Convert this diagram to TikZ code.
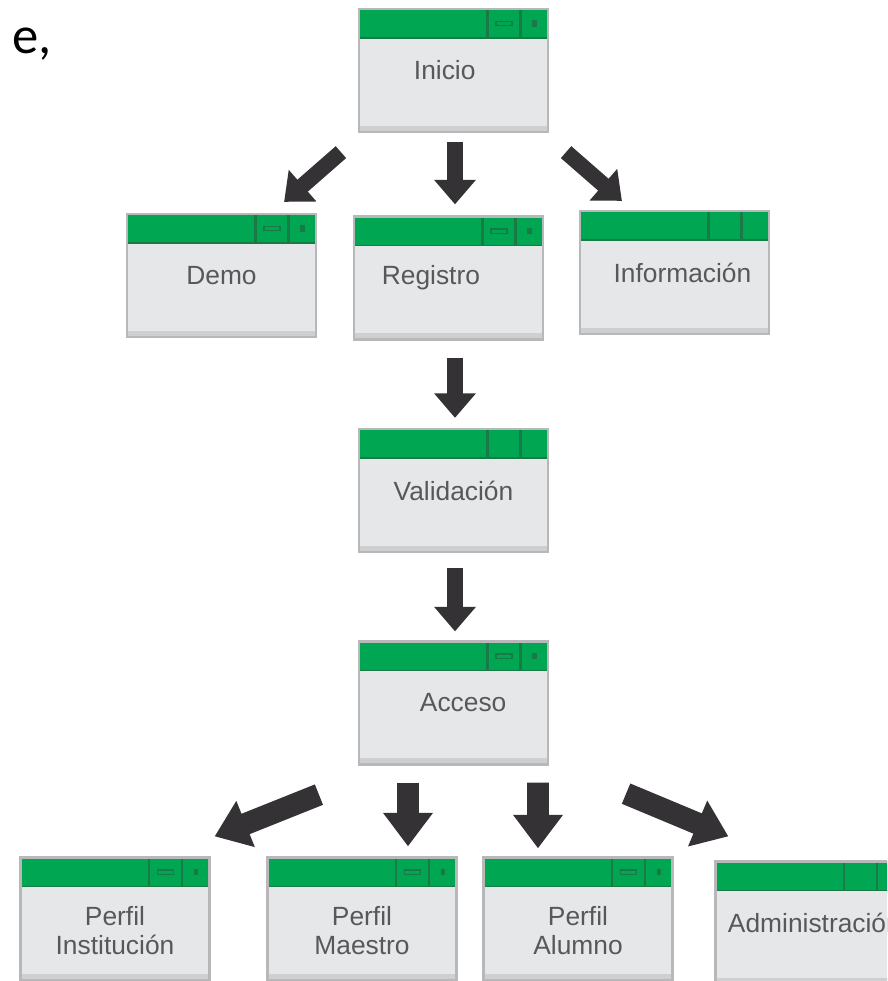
\documentclass[tikz,border=0pt]{standalone}
\usepackage{fontspec}
\setmainfont{Liberation Sans}
\newfontfamily\docfont{Carlito}
\usepackage{tikz}
\usetikzlibrary{arrows.meta,calc}

\definecolor{winGreen}{RGB}{0,166,81}
\definecolor{winDark}{RGB}{24,122,70}
\definecolor{winBody}{RGB}{230,231,232}
\definecolor{winStrip}{RGB}{206,207,209}
\definecolor{winEdge}{RGB}{184,184,187}
\definecolor{winText}{RGB}{88,88,90}
\definecolor{arrowGray}{RGB}{52,50,52}

% title bar of a window box
\newcommand\winbar{%
  \fill[winGreen] (path picture bounding box.north west) rectangle ([yshift=-16.5pt]path picture bounding box.north east);
  \draw[winDark, line width=0.8pt] ([yshift=-16.5pt]path picture bounding box.north west) -- ([yshift=-16.5pt]path picture bounding box.north east);
  \draw[winDark, line width=0.8pt] (path picture bounding box.north west) -- (path picture bounding box.north east);
  \draw[winDark, line width=1.4pt] ([xshift=-34.5pt]path picture bounding box.north east) -- ++(0,-16.5pt);
  \draw[winDark, line width=1.4pt] ([xshift=-15.5pt]path picture bounding box.north east) -- ++(0,-16.5pt);
  \fill[winStrip] (path picture bounding box.south west) rectangle ([yshift=3.5pt]path picture bounding box.south east);
}
% minimize / close marks
\newcommand\winbuttons{%
  \draw[winDark, line width=0.8pt] ([xshift=-29.5pt,yshift=-7pt]path picture bounding box.north east) rectangle ([xshift=-20.5pt,yshift=-9.5pt]path picture bounding box.north east);
  \fill[winDark] ([xshift=-9pt,yshift=-6.5pt]path picture bounding box.north east) rectangle ([xshift=-6.5pt,yshift=-10pt]path picture bounding box.north east);
}
% label set off the middle of its box
\newcommand\nudge[2]{\makebox[0pt]{\hspace*{#1}\hspace*{#1}#2}}
% two-line label, set a little low
\newcommand\twoline[2]{\raisebox{-12pt}[0pt][0pt]{\begin{tabular}{@{}c@{}}#1\\#2\end{tabular}}}

\tikzset{
  winbase/.style={draw=winEdge, line width=1.3pt, fill=winBody,
    minimum width=107.5pt, minimum height=70pt, inner sep=0pt,
    text=winText, font=\fontsize{15}{16.5}\selectfont, align=center},
  win/.style={winbase, path picture={\winbar}},
  winbtn/.style={winbase, path picture={\winbar\winbuttons}},
  blk/.style={draw=arrowGray, line width=9pt,
    -{Triangle[width=23pt,length=14pt]}},
  blkbig/.style={draw=arrowGray, line width=12.5pt,
    -{Triangle[width=27pt,length=19pt]}},
}

\begin{document}
\begin{tikzpicture}[x=0.02cm, y=-0.02cm]
\useasboundingbox (0,0) rectangle (887,981);
\clip (0,0) rectangle (887,981);

\node[anchor=base west, font=\docfont\fontsize{30}{36}\selectfont] (marg) at (6,53) {e,};

% windows
\node[winbtn] (inicio) at (453.5,70.5) {\nudge{-5pt}{Inicio}};
\node[winbtn] (demo) at (221.5,275.5) {Demo};
\node[winbtn] (registro) at (448.5,278) {\nudge{-10pt}{Registro}};
\node[win] (informacion) at (674.5,272.5) {\nudge{4.5pt}{Información}};
\node[win] (validacion) at (453.5,490.5) {Validación};
\node[winbtn] (acceso) at (453.5,703) {\nudge{5.5pt}{Acceso}};
\node[winbtn] (inst) at (115,919) {\twoline{Perfil}{Institución}};
\node[winbtn] (maestro) at (362,919) {\twoline{Perfil}{Maestro}};
\node[winbtn] (alumno) at (578,919) {\twoline{Perfil}{Alumno}};
\node[win] (admin) at (810,923) {\nudge{2.5pt}{Administración}};

% arrows
\draw[blk] ($(inicio.south west)+(-17,19)$) -- ($(demo.north east)+(-33,-11)$);
\draw[blk] ($(inicio.south)+(1.5,9)$) -- ($(registro.north)+(6.5,-11)$);
\draw[blk] ($(inicio.south east)+(17,19)$) -- ($(informacion.north west)+(43,-9)$);
\draw[blk] ($(registro.south)+(6.5,17)$) -- ($(validacion.north)+(1.5,-10)$);
\draw[blk] ($(validacion.south)+(1.5,15)$) -- ($(acceso.north)+(1.5,-9)$);
\draw[blkbig] ($(acceso.south west)+(-39,29)$) -- ($(inst.north east)+(4,-20)$);
\draw[blkbig] ($(acceso.south)+(-45.5,17)$) -- ($(maestro.north)+(46,-10)$);
\draw[blkbig] ($(acceso.south)+(84.5,17)$) -- ($(alumno.north)+(-40,-8)$);
\draw[blkbig] ($(acceso.south east)+(77,28)$) -- ($(admin.north west)+(14,-24)$);
\end{tikzpicture}
\end{document}
